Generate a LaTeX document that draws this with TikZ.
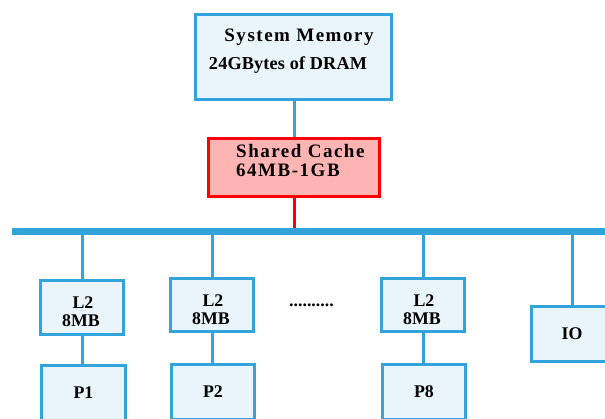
\documentclass[tikz,border=0pt]{standalone}
\usepackage{fontspec}
\setmainfont{Liberation Serif}
\newfontfamily\hdfont[LetterSpace=8]{Liberation Serif}
\newfontfamily\subfont[LetterSpace=1]{Liberation Serif}
\definecolor{busblue}{RGB}{51,163,220}
\definecolor{boxfill}{RGB}{234,244,251}
\definecolor{cachered}{RGB}{255,0,0}
\definecolor{cachefill}{RGB}{255,180,180}
\begin{document}
\begin{tikzpicture}[x=1pt,y=-1pt,
  bluebox/.style={draw=busblue,fill=boxfill,line width=3pt,inner sep=0pt},
  redbox/.style={draw=cachered,fill=cachefill,line width=3pt,inner sep=0pt},
  hdtext/.style={font=\hdfont\bfseries\fontsize{19}{22}\selectfont,inner sep=0pt},
  subtext/.style={font=\subfont\bfseries\fontsize{18.2}{22}\selectfont,inner sep=0pt},
  smalltext/.style={font=\bfseries\fontsize{17.8}{21}\selectfont,inner sep=0pt},
  blueline/.style={draw=busblue,line width=3pt},
  redline/.style={draw=cachered,line width=3pt},
  busline/.style={draw=busblue,line width=7pt}]
\useasboundingbox (0,0) rectangle (605,419);
\clip (0,0) rectangle (605,419);
% boxes
\node[bluebox,minimum width=196pt,minimum height=85pt] (mem) at (293.5,57) {};
\node[redbox,minimum width=171pt,minimum height=58pt] (cache) at (294,167.5) {};
\node[bluebox,minimum width=83pt,minimum height=54pt] (l2a) at (82,307.5) {};
\node[bluebox,minimum width=83pt,minimum height=53pt] (l2b) at (212,305) {};
\node[bluebox,minimum width=83pt,minimum height=53pt] (l2c) at (423,305) {};
\node[bluebox,minimum width=84pt,minimum height=55pt] (p1) at (83.5,393) {};
\node[bluebox,minimum width=83pt,minimum height=55pt] (p2) at (213,392) {};
\node[bluebox,minimum width=83pt,minimum height=55pt] (p8) at (424,392) {};
\node[bluebox,minimum width=81pt,minimum height=55pt] (io) at (572,334) {};
% bus
\coordinate (busL) at (12,232);
\coordinate (busR) at (606,232);
% connectors
\draw[blueline] (cache.north |- mem.south) -- (cache.north);
\draw[redline] (cache.south) -- (cache.south |- busL);
\draw[busline] (busL) -- (busR);
\draw[blueline] (l2a.north |- busL) -- (l2a.north);
\draw[blueline] (l2b.north |- busL) -- (l2b.north);
\draw[blueline] (l2c.north |- busL) -- (l2c.north);
\draw[blueline] (io.north |- busL) -- (io.north);
\draw[blueline] (l2a.south) -- (l2a.south |- p1.north);
\draw[blueline] (l2b.south) -- (l2b.south |- p2.north);
\draw[blueline] (l2c.south) -- (l2c.south |- p8.north);
% texts
\node[hdtext,anchor=base] (memt1) at (299,42) {System Memory};
\node[subtext,anchor=base] (memt2) at (288,70) {24GBytes of DRAM};
\node[hdtext,anchor=base west] (cachet1) at (236,158) {Shared Cache};
\node[hdtext,anchor=base west] (cachet2) at (236,177) {64MB-1GB};
\node[smalltext,anchor=base] (l2at1) at (83,309) {L2};
\node[smalltext,anchor=base] (l2at2) at (81,327) {8MB};
\node[smalltext,anchor=base] (l2bt1) at (213,306.5) {L2};
\node[smalltext,anchor=base] (l2bt2) at (211,324.5) {8MB};
\node[smalltext,anchor=base] (l2ct1) at (424,306.5) {L2};
\node[smalltext,anchor=base] (l2ct2) at (422,324.5) {8MB};
\node[smalltext] (p1t) at (p1.center) {P1};
\node[smalltext] (p2t) at (p2.center) {P2};
\node[smalltext] (p8t) at (p8.center) {P8};
\node[smalltext] (iot) at (io.center) {IO};
\node[smalltext,anchor=base west] (dots) at (289,307) {..........};
\end{tikzpicture}
\end{document}
